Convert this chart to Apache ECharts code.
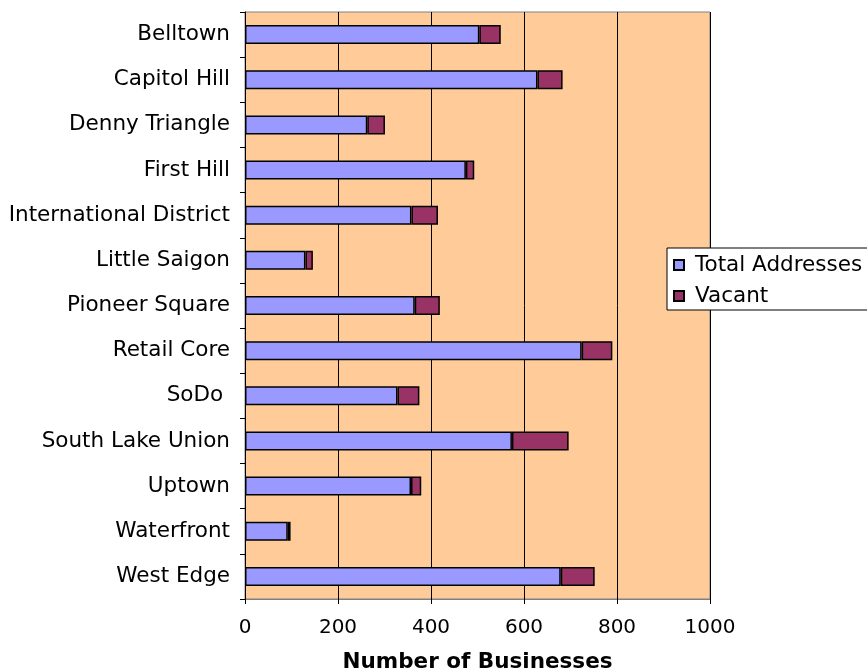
<!DOCTYPE html>
<html>
<head>
<meta charset="utf-8">
<script src="https://cdn.jsdelivr.net/npm/echarts@6/dist/echarts.min.js"></script>
<style>
  html, body { margin: 0; padding: 0; background: #ffffff; }
  #chart { width: 867px; height: 670px; }
</style>
</head>
<body>
<div id="chart"></div>
<script>
// Neighbourhoods, listed top to bottom
const neighborhoods = [
  'Belltown', 'Capitol Hill', 'Denny Triangle', 'First Hill',
  'International District', 'Little Saigon', 'Pioneer Square',
  'Retail Core', 'SoDo ', 'South Lake Union', 'Uptown',
  'Waterfront', 'West Edge'
];

// Occupied business addresses per neighbourhood
const totalAddresses = [504, 629, 263, 475, 358, 130, 365, 724, 328, 574, 357, 92, 679];

// Vacant addresses, stacked on top of the totals
const vacant = [46, 54, 38, 18, 57, 16, 54, 66, 47, 122, 22, 6, 73];

// Value axis ticks
const xTicks = [0, 200, 400, 600, 800, 1000];

const font = 'DejaVu Sans, Verdana, sans-serif';

const chart = echarts.init(document.getElementById('chart'), null, { renderer: 'canvas' });

chart.setOption({
  animation: false,
  backgroundColor: '#ffffff',
  textStyle: { fontFamily: font, color: '#000' },
  grid: {
    left: 245, right: 157, top: 12, bottom: 71,
    containLabel: false,
    outerBoundsMode: 'none',
    show: true,
    backgroundColor: '#FFCC99',
    borderColor: '#808080',
    borderWidth: 1
  },
  legend: {
    orient: 'vertical',
    left: 667, top: 248,
    backgroundColor: '#ffffff',
    borderColor: '#000000',
    borderWidth: 1,
    padding: [6, 10, 3, 6],
    itemGap: 9,
    itemWidth: 10, itemHeight: 10,
    icon: 'rect',
    textStyle: { fontFamily: font, fontSize: 21.5, color: '#000', padding: [0, 0, 0, 6] },
    data: ['Total Addresses', 'Vacant']
  },
  xAxis: {
    type: 'value',
    min: xTicks[0],
    max: xTicks[xTicks.length - 1],
    interval: xTicks[1] - xTicks[0],
    name: 'Number of Businesses',
    nameLocation: 'middle',
    nameGap: 52,
    nameTextStyle: { fontFamily: font, fontSize: 21.5, fontWeight: 'bold', color: '#000' },
    axisLine: { show: true, lineStyle: { color: '#808080', width: 1 } },
    axisTick: { show: true, inside: false, length: 5, lineStyle: { color: '#000' } },
    axisLabel: {
      fontFamily: font, fontSize: 20, color: '#000', margin: 19,
      formatter: (v) => String(v)
    },
    splitLine: { show: true, lineStyle: { color: '#000', width: 1 } }
  },
  yAxis: {
    type: 'category',
    inverse: true,
    data: neighborhoods,
    axisLine: { show: true, lineStyle: { color: '#000', width: 1 } },
    axisTick: { show: true, inside: false, length: 5, lineStyle: { color: '#000' } },
    axisLabel: { fontFamily: font, fontSize: 21.5, color: '#000', margin: 15 },
    splitLine: { show: false }
  },
  series: [
    {
      name: 'Total Addresses',
      type: 'bar',
      stack: 'all',
      barWidth: 19,
      data: totalAddresses,
      itemStyle: { color: '#9999FF', borderColor: '#000', borderWidth: 1.5 }
    },
    {
      name: 'Vacant',
      type: 'bar',
      stack: 'all',
      barWidth: 19,
      data: vacant,
      itemStyle: { color: '#993366', borderColor: '#000', borderWidth: 1.5 }
    }
  ]
});
</script>
</body>
</html>
